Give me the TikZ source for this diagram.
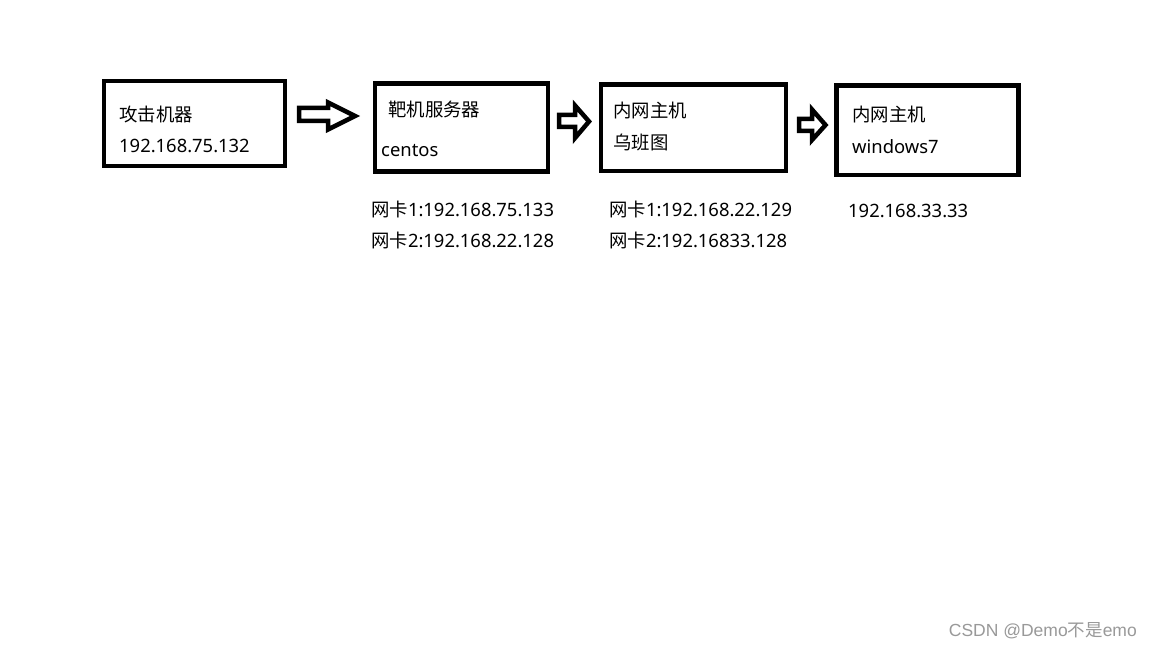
\documentclass[tikz,border=0pt]{standalone}
\usepackage{fontspec}
\setmainfont{Noto Sans}
\newfontfamily\cjk{Noto Sans CJK SC}
\newfontfamily\markfont{Liberation Sans}
\usepackage{tikz}
\usetikzlibrary{backgrounds}

\begin{document}
\begin{tikzpicture}[x=1pt,y=1pt,
  hostbox/.style={draw,line width=4.5pt,inner sep=0pt,minimum width=#1},
  txt/.style={anchor=base west,inner sep=0pt,font=\fontsize{18.4}{18}\selectfont},
  blockarr/.style={draw,line width=4.5pt,line join=miter,fill=white}]
\fill[white] (0,0) rectangle (1152,648);
\useasboundingbox (0,0) rectangle (1152,648);
% hosts
\node[hostbox=181pt,minimum height=85pt] (atk) at (194.5,524.5) {};
\node[hostbox=173pt,minimum height=88pt] (tgt) at (461.5,520.5) {};
\node[hostbox=185pt,minimum height=86.5pt] (ubt) at (693.5,520.25) {};
\node[hostbox=182pt,minimum height=89.3pt] (win) at (927.5,517.65) {};
% texts
\node[txt] (atkname) at (119,526) {\cjk 攻击机器};
\node[txt] (atkip) at (119,495) {192.168.75.132};
\node[txt] (tgtname) at (388,531.5) {\cjk 靶机服务器};
\node[txt] (tgtos) at (381,491) {centos};
\node[txt] (tgtnica) at (371,431.5) {{\cjk 网卡}1:192.168.75.133};
\node[txt] (tgtnicb) at (371,400) {{\cjk 网卡}2:192.168.22.128};
\node[txt] (ubtname) at (613,530) {\cjk 内网主机};
\node[txt] (ubtos) at (613,498) {\cjk 乌班图};
\node[txt] (ubtnica) at (609,431.5) {{\cjk 网卡}1:192.168.22.129};
\node[txt] (ubtnicb) at (609,400) {{\cjk 网卡}2:192.16833.128};
\node[txt] (winname) at (852,526) {\cjk 内网主机};
\node[txt] (winos) at (852,494) {windows7};
\node[txt] (winip) at (848,430) {192.168.33.33};
% arrows
\draw[blockarr] (299,540) -- (328,540) -- (328,545.5) -- (355,532) -- (328,518.5)
  -- (328,527) -- (299,527) -- cycle;
\draw[blockarr] (559,533) -- (575,533) -- (575,542.5) -- (589,526.5) -- (575,510)
  -- (575,521) -- (559,521) -- cycle;
\draw[blockarr] (799,529) -- (812,529) -- (812,538.5) -- (825.5,523) -- (812,508)
  -- (812,517) -- (799,517) -- cycle;
\node[anchor=base east,inner sep=0pt,text=black!40,font=\fontsize{17.5}{17}\selectfont\markfont]
  (mark) at (1137,11.5) {CSDN @Demo{\cjk 不是}emo};
\end{tikzpicture}
\end{document}
